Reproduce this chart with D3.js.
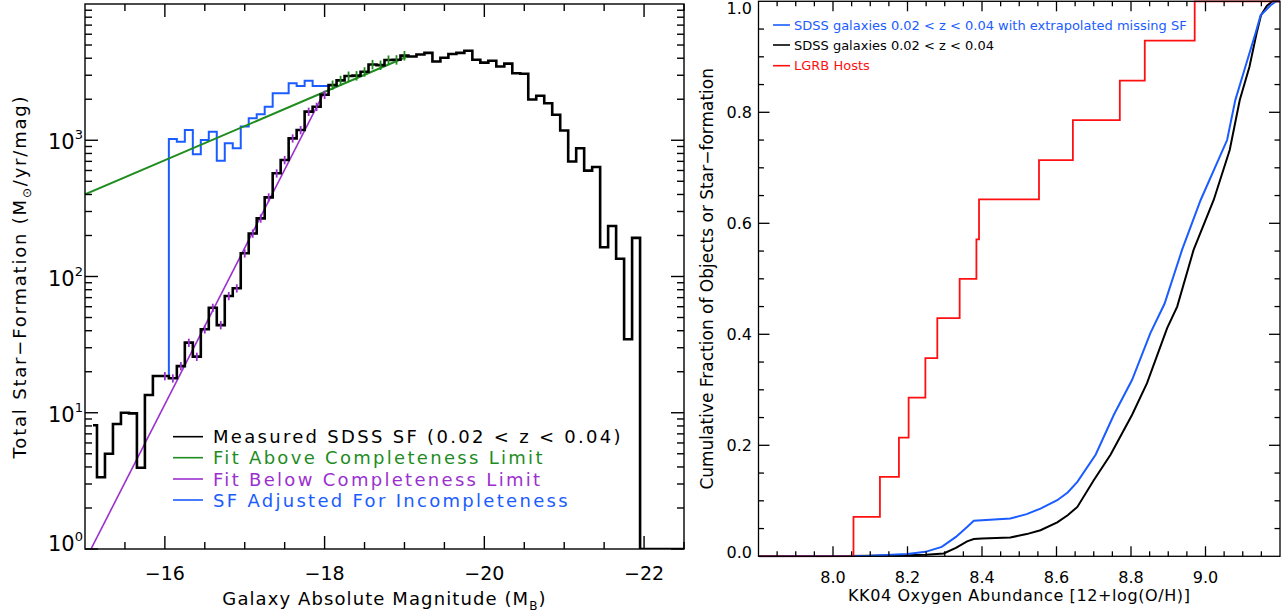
<!DOCTYPE html>
<html><head><meta charset="utf-8">
<script src="https://cdn.jsdelivr.net/npm/d3@7"></script>
<style>
body{margin:0;background:#fff}
svg{display:block}
text{font-family:"DejaVu Sans",sans-serif;fill:#000}
</style>
</head><body>
<svg id="c" width="1286" height="614"></svg>
<script>
// ---------------- LEFT PANEL DATA ----------------
const magBins = [-15.1,-15.2,-15.3,-15.4,-15.5,-15.6,-15.7,-15.8,-15.9,-16.0,
  -16.1,-16.2,-16.3,-16.4,-16.5,-16.6,-16.7,-16.8,-16.9,-17.0,
  -17.1,-17.2,-17.3,-17.4,-17.5,-17.6,-17.7,-17.8,-17.9,-18.0,
  -18.1,-18.2,-18.3,-18.4,-18.5,-18.6,-18.7,-18.8,-18.9,-19.0,
  -19.1,-19.2,-19.3,-19.4,-19.5,-19.6,-19.7,-19.8,-19.9,-20.0,
  -20.1,-20.2,-20.3,-20.4,-20.5,-20.6,-20.7,-20.8,-20.9,-21.0,
  -21.1,-21.2,-21.3,-21.4,-21.5,-21.6,-21.7,-21.8,-21.9,-22.0,
  -22.1,-22.2,-22.3,-22.4,-22.5];
const sfMeasured = [8.1,3.36,5.0,8.27,10.0,9.9,3.95,13.5,18.6,18.6,
  17.9,22.0,32.7,25.8,41,59,44,72,82,148,
  207,267,381,572,716,1033,1189,1622,1763,2160,
  2540,2750,2960,2980,3180,3600,3560,3880,3900,4180,
  4120,4260,4380,3780,4030,4300,4380,4540,3900,3710,
  3830,3480,3650,3100,3080,1990,2120,1870,1540,1180,
  698,873,598,636,164,235,135,34.6,192,0,
  0,0,0,0,0];
const adjMags = [-16.0,-16.1,-16.2,-16.3,-16.4,-16.5,-16.6,-16.7,-16.8,-16.9,-17.0,
  -17.1,-17.2,-17.3,-17.4,-17.5,-17.6,-17.7,-17.8,-17.9,-18.0,-18.1];
const sfAdjusted = [18.6,1021,977,1189,789,1004,1156,708,950,873,1259,
  1449,1550,1762,2209,2209,2618,2500,2735,2500,2500,2540];
const fitAboveMags = [-15.0,-19.05];
const fitAboveSF = [401,4150];
const fitBelowMags = [-15.0,-18.0];
const fitBelowSF = [0.82,2280];
const errBelowMags = [-16.0,-16.1,-16.2,-16.3,-16.4,-16.5,-16.6,-16.7,-16.8,-16.9,-17.0,
  -17.1,-17.2,-17.3,-17.4,-17.5,-17.6,-17.7,-17.8,-17.9,-18.0];
const errBelowRel = [0.07,0.07,0.07,0.07,0.07,0.07,0.07,0.07,0.07,0.07,0.07,
  0.07,0.07,0.07,0.07,0.07,0.07,0.07,0.07,0.07,0.07];
const errAboveMags = [-18.1,-18.2,-18.3,-18.4,-18.5,-18.6,-18.7,-18.8,-18.9,-19.0];
const errAboveRel = [0.08,0.08,0.08,0.08,0.08,0.08,0.08,0.08,0.08,0.08];
const leftLegend = ["Measured SDSS SF (0.02 < z < 0.04)","Fit Above Completeness Limit",
  "Fit Below Completeness Limit","SF Adjusted For Incompleteness"];
const xTickLabelsL = [-16,-18,-20,-22];
const yTickDecadesL = [0,1,2,3];

// ---------------- RIGHT PANEL DATA ----------------
const ohBlack = [7.80,7.97,8.10,8.20,8.25,8.297,8.33,8.36,8.378,8.40,8.476,8.52,8.557,8.602,8.63,8.656,
  8.70,8.745,8.803,8.843,8.897,8.924,8.968,9.022,9.065,9.092,9.118,9.137,9.149,9.165,9.18,9.20];
const fracBlack = [0,0,0.001,0.002,0.003,0.005,0.015,0.027,0.031,0.032,0.034,0.040,0.047,0.061,0.074,0.089,
  0.137,0.183,0.255,0.312,0.411,0.450,0.552,0.642,0.732,0.822,0.882,0.942,0.975,0.992,1.0,1.0];
const ohBlue = [7.80,8.10,8.20,8.248,8.292,8.33,8.36,8.378,8.40,8.476,8.52,8.557,8.602,8.63,8.656,
  8.705,8.754,8.803,8.852,8.890,8.937,8.987,9.058,9.080,9.107,9.134,9.148,9.175,9.19,9.20];
const fracBlue = [0,0.001,0.004,0.008,0.017,0.035,0.053,0.064,0.065,0.068,0.076,0.086,0.101,0.115,0.134,
  0.183,0.255,0.318,0.402,0.455,0.552,0.642,0.750,0.822,0.882,0.942,0.975,0.993,1.0,1.0];
const lgrbOH = [7.80,8.055,8.126,8.177,8.203,8.248,8.280,8.340,8.385,8.392,8.553,8.644,8.770,8.837,8.971,9.20];
const lgrbFrac = [0,0.071,0.143,0.214,0.286,0.357,0.429,0.500,0.571,0.643,0.714,0.786,0.857,0.929,1.0,1.0];
const rightLegend = ["SDSS galaxies 0.02 < z < 0.04 with extrapolated missing SF",
  "SDSS galaxies 0.02 < z < 0.04","LGRB Hosts"];
const xTickLabelsR = [8.0,8.2,8.4,8.6,8.8,9.0];
const yTickLabelsR = [0.0,0.2,0.4,0.6,0.8,1.0];

// ---------------- STYLE ----------------
const C = {black:"#000000", green:"#1e8c1e", purple:"#9b30d0", blue:"#1a5cff", red:"#ff1010"};

const svg = d3.select("#c");

// =============== LEFT PANEL ===============
const L = {x0:85, x1:684, y0:4, y1:549};
const xL = d3.scaleLinear().domain([-15,-22.5]).range([L.x0,L.x1]);
const yL = d3.scaleLog().domain([1,1e4]).range([L.y1,L.y0]);
const yH = v => v > 0 ? yL(v) : L.y1;

svg.append("clipPath").attr("id","clipL").append("rect")
  .attr("x",L.x0).attr("y",L.y0).attr("width",L.x1-L.x0).attr("height",L.y1-L.y0);
const gL = svg.append("g").attr("clip-path","url(#clipL)");

const stepLine = d3.line().curve(d3.curveStep);
gL.append("path").attr("fill","none").attr("stroke",C.blue).attr("stroke-width",2)
  .attr("d", stepLine(adjMags.map((m,i)=>[xL(m), yH(sfAdjusted[i])])));
gL.append("path").attr("fill","none").attr("stroke",C.green).attr("stroke-width",2)
  .attr("d", d3.line()(fitAboveMags.map((m,i)=>[xL(m), yL(fitAboveSF[i])])));
gL.append("path").attr("fill","none").attr("stroke",C.purple).attr("stroke-width",1.6)
  .attr("d", d3.line()(fitBelowMags.map((m,i)=>[xL(m), yL(fitBelowSF[i])])));
gL.append("path").attr("fill","none").attr("stroke",C.black).attr("stroke-width",2.6)
  .attr("stroke-linejoin","miter")
  .attr("d", stepLine(magBins.map((m,i)=>[xL(m), yH(sfMeasured[i])])));
function sfAt(m){ const i = magBins.findIndex(b=>Math.abs(b-m)<1e-6); return sfMeasured[i]; }
errBelowMags.forEach((m,i)=>{
  const v = sfAt(m);
  gL.append("line").attr("x1",xL(m)).attr("x2",xL(m))
    .attr("y1",yL(v*(1-errBelowRel[i]))).attr("y2",yL(v*(1+errBelowRel[i])))
    .attr("stroke",C.purple).attr("stroke-width",1.8);
});
errAboveMags.forEach((m,i)=>{
  const v = sfAt(m);
  gL.append("line").attr("x1",xL(m)).attr("x2",xL(m))
    .attr("y1",yL(v*(1-errAboveRel[i]))).attr("y2",yL(v*(1+errAboveRel[i])))
    .attr("stroke",C.green).attr("stroke-width",1.8);
});

const axL = svg.append("g").attr("stroke","#000").attr("stroke-width",1.4);
axL.append("rect").attr("x",L.x0).attr("y",L.y0).attr("width",L.x1-L.x0).attr("height",L.y1-L.y0)
  .attr("fill","none");
d3.range(-15.5,-22.51,-0.5).forEach(v=>{
  const major = Math.abs(v)%2===0;
  const len = major?13:7, x = xL(v);
  axL.append("line").attr("x1",x).attr("x2",x).attr("y1",L.y1).attr("y2",L.y1-len);
  axL.append("line").attr("x1",x).attr("x2",x).attr("y1",L.y0).attr("y2",L.y0+len);
});
[1,10,100,1000].forEach(dec=>{
  for(let j=1;j<=9;j++){
    const v = dec*j; if(v>=1e4) continue;
    const len = j===1?13:7, y = yL(v);
    axL.append("line").attr("x1",L.x0).attr("x2",L.x0+len).attr("y1",y).attr("y2",y);
    axL.append("line").attr("x1",L.x1).attr("x2",L.x1-len).attr("y1",y).attr("y2",y);
  }
});
xTickLabelsL.forEach(v=>{
  svg.append("text").attr("x",xL(v)).attr("y",580).attr("text-anchor","middle")
    .attr("font-size",19).text("\u2212"+Math.abs(v));
});
yTickDecadesL.forEach(k=>{
  const t = svg.append("text").attr("x",83).attr("y",Math.min(yL(Math.pow(10,k))+9, 551))
    .attr("text-anchor","end").attr("font-size",21).text("10");
  t.append("tspan").attr("dy",-10).attr("font-size",13).text(k);
});
const xt = svg.append("text").attr("x",(L.x0+L.x1)/2).attr("y",605).attr("text-anchor","middle")
  .attr("font-size",18).attr("letter-spacing",1.1).text("Galaxy Absolute Magnitude (M");
xt.append("tspan").attr("dy",5).attr("font-size",12).text("B");
xt.append("tspan").attr("dy",-5).text(")");
const yt = svg.append("text").attr("transform",`translate(26,${(L.y0+L.y1)/2}) rotate(-90)`)
  .attr("text-anchor","middle").attr("font-size",18).attr("letter-spacing",1.8)
  .text("Total Star\u2212Formation (M");
yt.append("tspan").attr("dy",5).attr("font-size",12).text("\u2299");
yt.append("tspan").attr("dy",-5).text("/yr/mag)");

const legColsL = [C.black,C.green,C.purple,C.blue];
const legLineY = [436.7,457.7,479,500];
leftLegend.forEach((s,i)=>{
  svg.append("line").attr("x1",173).attr("x2",203).attr("y1",legLineY[i]).attr("y2",legLineY[i])
    .attr("stroke",legColsL[i]).attr("stroke-width",1.6);
  svg.append("text").attr("x",213).attr("y",legLineY[i]+6.6).attr("font-size",18)
    .attr("letter-spacing",2.3).style("fill",legColsL[i]).text(s);
});

// =============== RIGHT PANEL ===============
const R = {x0:758.5, x1:1280, y0:1.3, y1:556.3};
const xR = d3.scaleLinear().domain([7.8,9.2]).range([R.x0,R.x1]);
const yR = d3.scaleLinear().domain([0,1]).range([R.y1,R.y0]);
svg.append("clipPath").attr("id","clipR").append("rect")
  .attr("x",R.x0).attr("y",R.y0-1).attr("width",R.x1-R.x0).attr("height",R.y1-R.y0+2);
const gR = svg.append("g").attr("clip-path","url(#clipR)");
const lineR = d3.line();
gR.append("path").attr("fill","none").attr("stroke",C.black).attr("stroke-width",2)
  .attr("d", lineR(ohBlack.map((x,i)=>[xR(x), yR(fracBlack[i])])));
gR.append("path").attr("fill","none").attr("stroke",C.blue).attr("stroke-width",2)
  .attr("d", lineR(ohBlue.map((x,i)=>[xR(x), yR(fracBlue[i])])));
gR.append("path").attr("fill","none").attr("stroke",C.red).attr("stroke-width",1.8)
  .attr("d", d3.line().curve(d3.curveStepAfter)(lgrbOH.map((x,i)=>[xR(x), yR(lgrbFrac[i])])));

const axR = svg.append("g").attr("stroke","#000").attr("stroke-width",1.3);
axR.append("rect").attr("x",R.x0).attr("y",R.y0).attr("width",R.x1-R.x0).attr("height",R.y1-R.y0)
  .attr("fill","none");
d3.range(7.85,9.199,0.05).forEach(v=>{
  const major = Math.abs(v*5-Math.round(v*5))<1e-6;
  const len = major?10:5, x = xR(v);
  axR.append("line").attr("x1",x).attr("x2",x).attr("y1",R.y1).attr("y2",R.y1-len);
  axR.append("line").attr("x1",x).attr("x2",x).attr("y1",R.y0).attr("y2",R.y0+len);
});
d3.range(0.05,0.999,0.05).forEach(v=>{
  const major = Math.abs(v*5-Math.round(v*5))<1e-6;
  const len = major?11:5.5, y = yR(v);
  axR.append("line").attr("x1",R.x0).attr("x2",R.x0+len).attr("y1",y).attr("y2",y);
  axR.append("line").attr("x1",R.x1).attr("x2",R.x1-len).attr("y1",y).attr("y2",y);
});
xTickLabelsR.forEach(v=>{
  svg.append("text").attr("x",xR(v)).attr("y",583).attr("text-anchor","middle")
    .attr("font-size",16).text(v.toFixed(1));
});
yTickLabelsR.forEach(v=>{
  const yy = Math.min(Math.max(yR(v)+6, 14), 558);
  svg.append("text").attr("x",752).attr("y",yy).attr("text-anchor","end")
    .attr("font-size",16).text(v.toFixed(1));
});
svg.append("text").attr("x",(R.x0+R.x1)/2).attr("y",601).attr("text-anchor","middle")
  .attr("font-size",16).attr("letter-spacing",0.6).text("KK04 Oxygen Abundance [12+log(O/H)]");
svg.append("text").attr("transform",`translate(713,${(R.y0+R.y1)/2}) rotate(-90)`)
  .attr("text-anchor","middle").attr("font-size",17).text("Cumulative Fraction of Objects or Star\u2212formation");

const legColsR = [C.blue,C.black,C.red];
const legYR = [25,45,65.7];
rightLegend.forEach((s,i)=>{
  svg.append("line").attr("x1",773).attr("x2",790).attr("y1",legYR[i]).attr("y2",legYR[i])
    .attr("stroke",legColsR[i]).attr("stroke-width",1.6);
  svg.append("text").attr("x",794).attr("y",legYR[i]+4.7).attr("font-size",13)
    .style("fill",legColsR[i]).text(s);
});
</script>
</body></html>
